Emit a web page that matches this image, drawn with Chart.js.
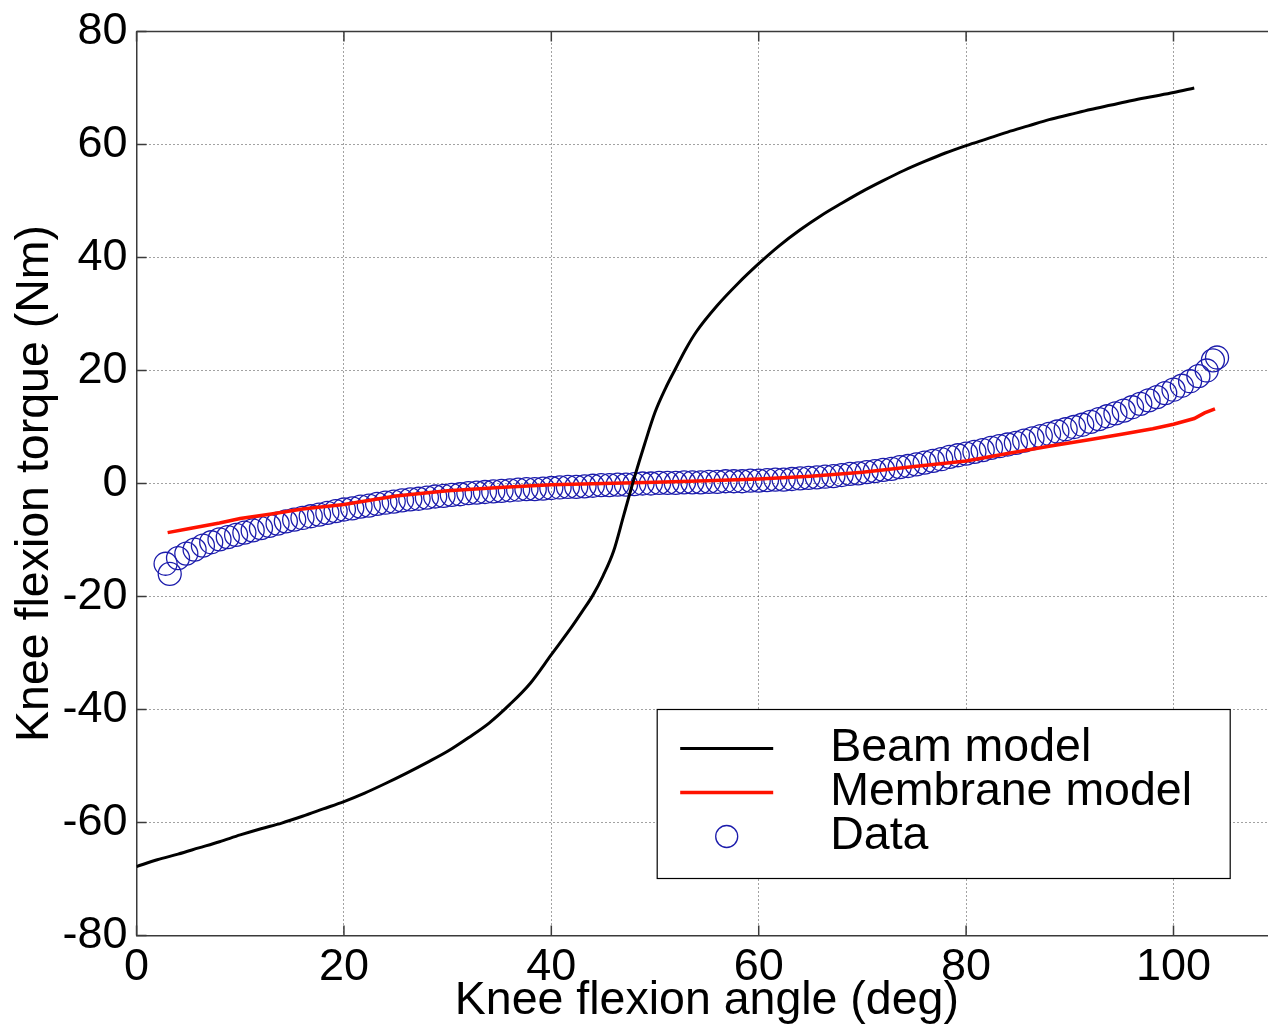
<!DOCTYPE html>
<html>
<head>
<meta charset="utf-8">
<script src="https://cdn.jsdelivr.net/npm/chart.js@4/dist/chart.umd.min.js"></script>
<style>
  html, body { margin: 0; padding: 0; background: #fff; overflow: hidden; }
  #wrap { width: 1290px; height: 1024px; }
</style>
</head>
<body>
<div id="wrap"><canvas id="torque" width="1290" height="1024"></canvas></div>
<script>
// Beam model curve
var beamAngle = [0, 2, 4, 6, 8, 10, 12, 14, 16, 18, 20, 22, 24, 26, 28, 30, 32, 34, 36, 38,
  40, 42, 43, 44, 45, 46, 47, 48, 49, 50, 51, 52, 53, 54, 56, 58, 60, 62, 64, 66,
  68, 70, 72, 74, 76, 78, 80, 82, 84, 86, 88, 90, 92, 94, 96, 98, 100, 102];
var beamTorque = [-67.8, -66.6, -65.6, -64.5, -63.4, -62.2, -61.1, -60.1, -58.9, -57.6, -56.3, -54.8, -53.1, -51.3, -49.4, -47.4, -45, -42.4, -39.1, -35.3,
  -30.3, -25.3, -22.6, -19.8, -16.3, -12, -5.5, 1, 7, 12.6, 16.8, 20.4, 23.9, 26.9, 31.5, 35.4, 38.9, 42.1, 44.9, 47.4,
  49.6, 51.7, 53.6, 55.4, 57, 58.5, 59.8, 61, 62.2, 63.3, 64.4, 65.3, 66.2, 67, 67.8, 68.5, 69.2, 70];

// Membrane model curve
var membraneAngle = [3, 5, 8, 10, 13, 16, 20, 25, 30, 35, 40, 45, 50, 55, 60, 65, 70, 75, 80, 84,
  88, 92, 95, 98, 100, 102, 103, 104];
var membraneTorque = [-8.7, -8, -7, -6.2, -5.4, -4.5, -3.7, -2.2, -1.3, -0.7, -0.2, 0, 0.2, 0.5, 0.8, 1.3, 2, 3, 4, 5.3,
  6.6, 7.8, 8.7, 9.7, 10.5, 11.5, 12.5, 13.2];

// Measured data
var dataAngle = [2.8, 3.2, 4, 4.8, 5.6, 6.4, 7.2, 8, 8.8, 9.6, 10.4, 11.2, 12, 12.8, 13.6, 14.4, 15.2, 16, 16.8, 17.6,
  18.4, 19.2, 20, 20.8, 21.6, 22.4, 23.2, 24, 24.8, 25.6, 26.4, 27.2, 28, 28.8, 29.6, 30.4, 31.2, 32, 32.8, 33.6,
  34.4, 35.2, 36, 36.8, 37.6, 38.4, 39.2, 40, 40.8, 41.6, 42.4, 43.2, 44, 44.8, 45.6, 46.4, 47.2, 48, 48.8, 49.6,
  50.4, 51.2, 52, 52.8, 53.6, 54.4, 55.2, 56, 56.8, 57.6, 58.4, 59.2, 60, 60.8, 61.6, 62.4, 63.2, 64, 64.8, 65.6,
  66.4, 67.2, 68, 68.8, 69.6, 70.4, 71.2, 72, 72.8, 73.6, 74.4, 75.2, 76, 76.8, 77.6, 78.4, 79.2, 80, 80.8, 81.6,
  82.4, 83.2, 84, 84.8, 85.6, 86.4, 87.2, 88, 88.8, 89.6, 90.4, 91.2, 92, 92.8, 93.6, 94.4, 95.2, 96, 96.8, 97.6,
  98.4, 99.2, 100, 100.8, 101.6, 102.4, 103.2, 103.8, 104.2];
var dataTorque = [-14.2, -16, -13.2, -12.4, -11.7, -11, -10.4, -9.9, -9.5, -9.1, -8.7, -8.3, -7.9, -7.5, -7.1, -6.7, -6.4, -6.1, -5.8, -5.5,
  -5.2, -4.9, -4.6, -4.4, -4.1, -3.9, -3.6, -3.4, -3.2, -3, -2.8, -2.7, -2.5, -2.3, -2.2, -2, -1.9, -1.7, -1.6, -1.5,
  -1.4, -1.3, -1.2, -1.1, -1, -1, -0.9, -0.8, -0.7, -0.6, -0.6, -0.5, -0.4, -0.3, -0.3, -0.2, -0.2, -0.1, 0, 0,
  0.1, 0.1, 0.1, 0.2, 0.2, 0.2, 0.3, 0.3, 0.4, 0.4, 0.4, 0.5, 0.5, 0.6, 0.7, 0.7, 0.8, 0.9, 1, 1.1,
  1.2, 1.3, 1.5, 1.7, 1.8, 2, 2.2, 2.4, 2.6, 2.9, 3.1, 3.4, 3.7, 4, 4.3, 4.7, 5, 5.3, 5.6, 5.9,
  6.3, 6.6, 6.9, 7.2, 7.6, 8, 8.4, 8.8, 9.2, 9.6, 10, 10.4, 10.9, 11.4, 11.9, 12.4, 12.9, 13.5, 14.1, 14.7,
  15.3, 16, 16.6, 17.3, 18.1, 19, 20, 21.8, 22.3];

var seriesNames = ['Beam model', 'Membrane model', 'Data'];
var xTitle = 'Knee flexion angle (deg)';
var yTitle = 'Knee flexion torque (Nm)';

var FONT = "'Liberation Sans', Arial, Helvetica, sans-serif";

function pairs(xs, ys) {
  return xs.map(function (x, i) { return { x: x, y: ys[i] }; });
}

// box on top plus inward tick marks, matlab style
var framePlugin = {
  id: 'frame',
  afterDraw: function (chart) {
    var ctx = chart.ctx, a = chart.chartArea;
    var xs = chart.scales.x, ys = chart.scales.y;
    ctx.save();
    ctx.strokeStyle = '#3a3a3a';
    ctx.lineWidth = 1.5;
    ctx.beginPath();
    ctx.moveTo(a.left, a.top);
    ctx.lineTo(a.right, a.top);
    ctx.stroke();
    ctx.beginPath();
    xs.ticks.forEach(function (t) {
      var px = xs.getPixelForValue(t.value);
      ctx.moveTo(px, a.bottom); ctx.lineTo(px, a.bottom - 10);
      ctx.moveTo(px, a.top); ctx.lineTo(px, a.top + 10);
    });
    ys.ticks.forEach(function (t) {
      var py = ys.getPixelForValue(t.value);
      ctx.moveTo(a.left, py); ctx.lineTo(a.left + 10, py);
    });
    ctx.stroke();
    ctx.restore();
  }
};

// boxed legend in the lower right of the axes
var legendBox = {
  id: 'legendBox',
  afterDraw: function (chart, args, opts) {
    var ctx = chart.ctx, a = chart.chartArea;
    var w = opts.width, h = opts.height;
    var x0 = a.right - opts.right - w;
    var y0 = a.bottom - opts.bottom - h;
    ctx.save();
    ctx.fillStyle = '#fff';
    ctx.fillRect(x0, y0, w, h);
    ctx.strokeStyle = '#000';
    ctx.lineWidth = 1.2;
    ctx.strokeRect(x0, y0, w, h);
    ctx.font = opts.fontSize + 'px ' + FONT;
    ctx.textBaseline = 'middle';
    ctx.textAlign = 'left';
    chart.data.datasets.forEach(function (ds, i) {
      var cy = y0 + opts.firstRow + i * opts.rowGap;
      var sx = x0 + opts.sampleLeft, sw = opts.sampleWidth;
      if (ds.showLine) {
        ctx.strokeStyle = ds.borderColor;
        ctx.lineWidth = ds.borderWidth;
        ctx.beginPath();
        ctx.moveTo(sx, cy); ctx.lineTo(sx + sw, cy);
        ctx.stroke();
      } else {
        ctx.strokeStyle = ds.pointBorderColor;
        ctx.lineWidth = ds.pointBorderWidth;
        ctx.beginPath();
        ctx.arc(sx + sw / 2, cy, opts.markerRadius, 0, Math.PI * 2);
        ctx.stroke();
      }
      ctx.fillStyle = '#000';
      ctx.fillText(ds.label, x0 + opts.textLeft, cy);
    });
    ctx.restore();
  }
};

var tickFont = { family: FONT, size: 45, lineHeight: 1 };
var titleFont = { family: FONT, size: 46.5, lineHeight: 1 };

new Chart(document.getElementById('torque'), {
  type: 'scatter',
  data: {
    datasets: [{
      label: seriesNames[0],
      data: pairs(beamAngle, beamTorque),
      showLine: true,
      borderColor: '#000000',
      borderWidth: 3,
      pointRadius: 0,
      cubicInterpolationMode: 'monotone'
    }, {
      label: seriesNames[1],
      data: pairs(membraneAngle, membraneTorque),
      showLine: true,
      borderColor: '#ff1200',
      borderWidth: 3.5,
      pointRadius: 0,
      tension: 0
    }, {
      label: seriesNames[2],
      data: pairs(dataAngle, dataTorque),
      showLine: false,
      pointStyle: 'circle',
      pointRadius: 11.5,
      pointBorderWidth: 1.3,
      pointBorderColor: '#1c1cac',
      pointBackgroundColor: 'rgba(0,0,0,0)'
    }]
  },
  options: {
    responsive: false,
    animation: false,
    devicePixelRatio: 1,
    layout: { padding: { top: 30, right: 8, left: 0, bottom: 0 } },
    plugins: {
      legend: { display: false },
      tooltip: { enabled: false },
      legendBox: {
        width: 573, height: 169, right: 47, bottom: 57,
        fontSize: 46.5, firstRow: 39, rowGap: 44,
        sampleLeft: 23, sampleWidth: 93, textLeft: 173, markerRadius: 11
      }
    },
    scales: {
      x: {
        type: 'linear',
        min: 0,
        max: 110,
        ticks: { stepSize: 20, includeBounds: false, color: '#000', font: tickFont, padding: 10, maxRotation: 0 },
        grid: { color: '#444', lineWidth: 1, drawTicks: false },
        border: { display: true, color: '#3a3a3a', width: 1.5, dash: [1, 3] },
        title: { display: true, text: xTitle, color: '#000', font: titleFont, padding: { top: -23, bottom: 0 } }
      },
      y: {
        type: 'linear',
        min: -80,
        max: 80,
        ticks: { stepSize: 20, color: '#000', font: tickFont, padding: 9 },
        grid: { color: '#444', lineWidth: 1, drawTicks: false },
        border: { display: true, color: '#3a3a3a', width: 1.5, dash: [1, 3] },
        title: { display: true, text: yTitle, color: '#000', font: titleFont, padding: { top: 12, bottom: -5 } }
      }
    }
  },
  plugins: [framePlugin, legendBox]
});
</script>
</body>
</html>
